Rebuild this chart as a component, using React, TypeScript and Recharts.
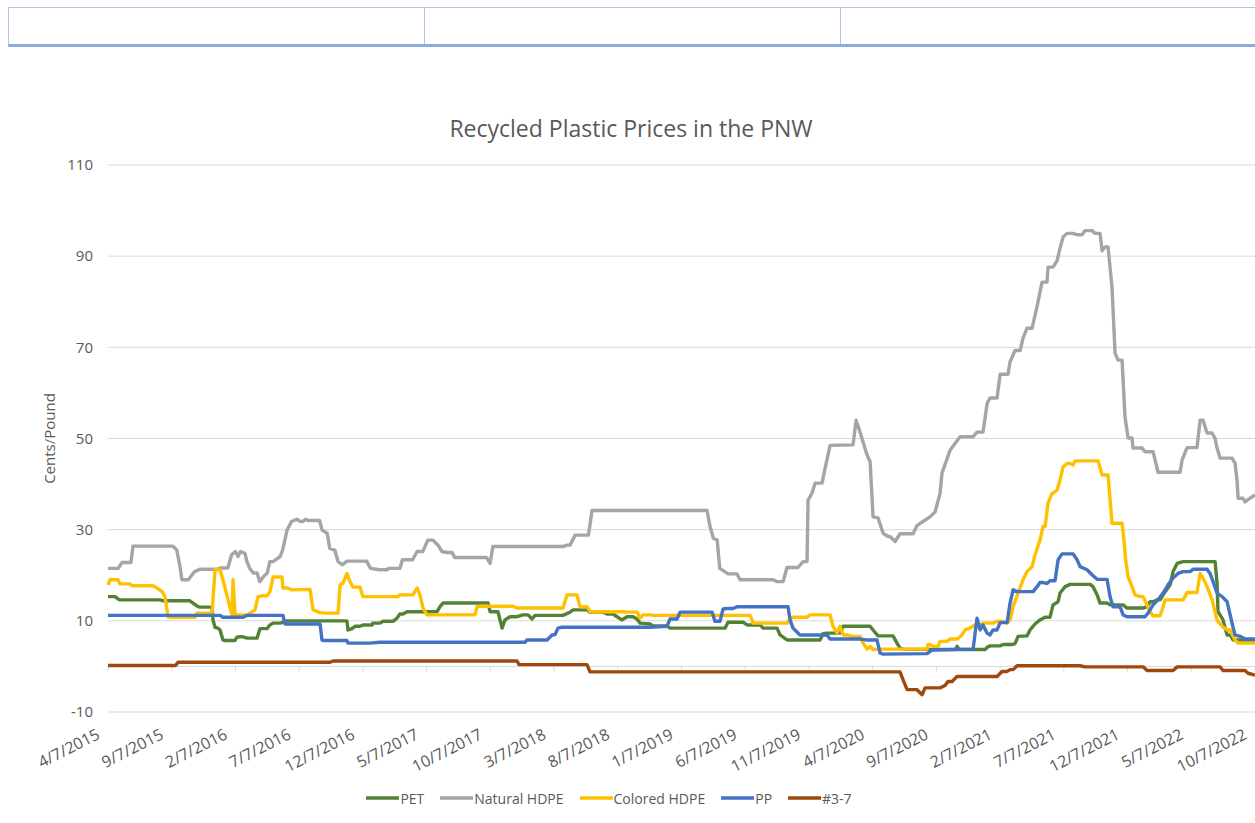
import { LineChart, Line, XAxis, YAxis, CartesianGrid, ReferenceLine } from 'recharts'

// x = months since 4/7/2015, y = cents per pound
const petPoints: [number, number][] = [
  [0, 15.3], [0.55, 15.3], [0.78, 14.8], [0.94, 14.6], [4.08, 14.6], [4.32, 14.4], [6.43, 14.4], [6.67, 13.9],
  [7.06, 13.1], [7.22, 13.0], [8.16, 13.0], [8.24, 10.2], [8.4, 8.5], [8.55, 8.5], [8.79, 8.0], [9.02, 5.8],
  [9.18, 5.7], [9.97, 5.7], [10.12, 6.4], [10.36, 6.5], [10.59, 6.5], [10.91, 6.2], [11.69, 6.2], [11.93, 8.3],
  [12.48, 8.3], [12.71, 9.1], [12.95, 9.5], [13.5, 9.5], [14.05, 10.0], [18.75, 10.0], [18.83, 8.0], [19.15, 8.3],
  [19.38, 8.8], [19.77, 8.8], [20.01, 9.1], [20.72, 9.1], [20.79, 9.5], [21.34, 9.5], [21.58, 9.9], [22.36, 9.9],
  [22.68, 10.6], [22.91, 11.5], [23.15, 11.5], [23.46, 12.0], [25.82, 12.0], [26.05, 13.1], [26.29, 13.9],
  [29.82, 13.9], [29.98, 12.0], [30.6, 12.0], [30.92, 8.4], [31.15, 10.2], [31.55, 10.9], [32.09, 10.9],
  [32.57, 11.3], [32.96, 11.3], [33.27, 10.4], [33.51, 11.2], [35.7, 11.2], [36.25, 11.9], [36.49, 12.4],
  [37.59, 12.4], [37.82, 11.9], [38.84, 11.9], [39.16, 11.5], [39.63, 11.5], [39.94, 10.9], [40.33, 10.2],
  [40.73, 10.9], [41.2, 10.9], [41.51, 10.4], [41.75, 9.5], [42.53, 9.3], [42.77, 8.9], [43.86, 8.9], [44.1, 8.4],
  [48.42, 8.4], [48.65, 9.7], [49.83, 9.7], [50.14, 9.1], [51.16, 9.1], [51.4, 8.4], [52.5, 8.4], [52.73, 6.9],
  [53.28, 5.8], [55.87, 5.8], [56.11, 7.2], [56.42, 7.3], [57.44, 7.3], [57.68, 8.8], [59.8, 8.8], [60.03, 8.0],
  [60.42, 6.7], [61.6, 6.7], [61.91, 5.1], [62.15, 4.0], [62.38, 3.8], [64.74, 3.7], [66.5, 3.7], [66.62, 4.4],
  [66.8, 3.7], [68.82, 3.7], [68.98, 4.2], [69.21, 4.5], [70.0, 4.5], [70.23, 4.8], [70.94, 4.8], [71.17, 5.0],
  [71.41, 6.6], [72.11, 6.7], [72.35, 8.0], [72.74, 9.3], [73.13, 10.2], [73.53, 10.8], [73.92, 10.8],
  [74.15, 13.5], [74.55, 14.2], [74.7, 16.1], [75.1, 17.5], [75.49, 18.0], [77.06, 18.0], [77.29, 17.5],
  [77.61, 15.7], [77.84, 13.9], [78.39, 13.9], [78.63, 13.5], [79.65, 13.5], [79.96, 12.8], [81.22, 12.8],
  [81.53, 13.1], [81.77, 14.2], [82.0, 14.2], [82.32, 14.6], [82.55, 14.6], [82.79, 15.7], [83.34, 17.9],
  [83.57, 20.8], [83.89, 22.6], [84.36, 23.0], [86.87, 23.0], [87.02, 18.3], [87.1, 12.0], [87.49, 10.2],
  [87.81, 6.9], [88.04, 6.9], [88.28, 5.8], [90, 5.8],
]

const naturalHdpePoints: [number, number][] = [
  [0, 21.5], [0.8, 21.5], [1.1, 22.8], [1.8, 22.8], [1.96, 26.4], [5.1, 26.4], [5.4, 25.5], [5.65, 21.9],
  [5.8, 19.0], [6.3, 19.0], [6.6, 20.1], [6.8, 20.8], [7.2, 21.3], [8.6, 21.3], [8.8, 21.6], [9.4, 21.6],
  [9.7, 24.5], [10.0, 25.2], [10.2, 24.1], [10.4, 25.2], [10.75, 24.8], [10.9, 23.0], [11.1, 21.6], [11.4, 20.5],
  [11.7, 20.5], [11.9, 18.6], [12.2, 19.7], [12.5, 20.5], [12.7, 23.0], [12.95, 23.0], [13.5, 24.1], [13.7, 25.5],
  [14.05, 29.9], [14.4, 31.8], [14.8, 32.3], [15.1, 31.8], [15.3, 31.8], [15.5, 32.3], [15.7, 32.0], [16.6, 32.0],
  [16.8, 29.9], [17.2, 29.2], [17.4, 25.9], [17.8, 25.5], [18.05, 23.0], [18.4, 22.3], [18.75, 23.1], [20.3, 23.1],
  [20.6, 21.5], [21.3, 21.2], [21.9, 21.2], [22.0, 21.5], [22.9, 21.5], [23.1, 23.4], [23.9, 23.4], [24.25, 25.2],
  [24.7, 25.2], [25.1, 27.7], [25.5, 27.7], [25.9, 26.6], [26.2, 25.2], [26.6, 25.0], [27.0, 25.0], [27.2, 23.9],
  [29.7, 23.9], [29.98, 22.6], [30.2, 26.3], [35.7, 26.3], [36.0, 26.6], [36.25, 26.6], [36.65, 28.8],
  [37.7, 28.8], [37.98, 34.2], [47.0, 34.2], [47.24, 30.7], [47.5, 28.1], [47.8, 27.7], [48.0, 21.5],
  [48.4, 20.8], [48.65, 20.3], [49.36, 20.3], [49.59, 19.0], [52.18, 19.0], [52.5, 18.6], [52.97, 18.6],
  [53.28, 21.7], [54.14, 21.7], [54.54, 23.0], [54.85, 23.0], [54.93, 36.5], [55.24, 38.0], [55.48, 40.2],
  [56.03, 40.2], [56.26, 43.4], [56.66, 48.5], [58.46, 48.6], [58.7, 54.0], [59.0, 51.5], [59.56, 46.4],
  [59.8, 44.9], [60.03, 32.8], [60.42, 32.6], [60.82, 29.2], [61.21, 28.5], [61.36, 28.5], [61.76, 27.4],
  [62.15, 29.1], [63.17, 29.1], [63.48, 30.9], [63.95, 31.8], [64.5, 32.8], [64.9, 33.9], [65.29, 38.0],
  [65.44, 42.4], [66.07, 47.4], [66.86, 50.4], [67.88, 50.4], [68.19, 51.4], [68.66, 51.4], [68.98, 57.7],
  [69.21, 58.9], [69.76, 58.9], [70.0, 64.1], [70.62, 64.1], [70.78, 66.8], [71.17, 69.3], [71.57, 69.3],
  [71.8, 72.0], [72.11, 74.2], [72.51, 74.2], [72.9, 79.0], [73.29, 84.3], [73.68, 84.3], [73.76, 87.6],
  [74.15, 87.6], [74.47, 89.0], [74.7, 91.7], [74.94, 94.2], [75.25, 95.0], [75.72, 95.0], [76.04, 94.7],
  [76.43, 94.7], [76.67, 95.6], [77.21, 95.6], [77.45, 95.0], [77.84, 95.0], [78.0, 91.2], [78.23, 92.0],
  [78.47, 92.0], [78.78, 83.2], [79.02, 68.7], [79.26, 67.2], [79.57, 67.2], [79.8, 54.7], [80.04, 50.1],
  [80.35, 50.1], [80.43, 47.9], [81.14, 47.9], [81.37, 47.1], [82.0, 47.1], [82.39, 42.6], [84.12, 42.6],
  [84.28, 45.3], [84.67, 48.0], [85.45, 48.0], [85.69, 54.0], [85.92, 54.0], [86.24, 51.2], [86.63, 51.2],
  [86.87, 50.0], [87.02, 47.9], [87.26, 45.7], [88.2, 45.7], [88.43, 44.6], [88.59, 40.9], [88.67, 36.9],
  [89.06, 36.9], [89.22, 36.1], [89.61, 36.9], [90, 37.6],
]

const coloredHdpePoints: [number, number][] = [
  [0, 17.9], [0.16, 19.0], [0.78, 19.0], [0.94, 18.1], [1.73, 18.1], [1.88, 17.7], [3.53, 17.7], [3.85, 17.2],
  [4.24, 16.4], [4.47, 15.3], [4.71, 10.9], [4.87, 10.8], [6.83, 10.8], [6.98, 11.7], [8.16, 11.7], [8.4, 21.2],
  [8.79, 21.2], [9.02, 19.0], [9.42, 14.6], [9.73, 11.3], [9.81, 19.0], [9.97, 11.3], [10.91, 11.3], [11.14, 11.7],
  [11.54, 12.4], [11.77, 15.3], [12.16, 15.5], [12.48, 15.5], [12.71, 16.4], [12.95, 19.6], [13.65, 19.6],
  [13.73, 17.2], [14.12, 17.2], [14.44, 16.8], [15.85, 16.9], [16.09, 12.4], [16.64, 11.8], [17.19, 11.7],
  [18.05, 11.7], [18.21, 17.9], [18.44, 18.3], [18.75, 20.4], [18.99, 18.6], [19.23, 17.4], [19.77, 17.4],
  [20.01, 15.3], [22.76, 15.3], [22.91, 15.7], [23.93, 15.7], [24.25, 17.2], [24.48, 15.7], [24.72, 12.8],
  [25.03, 11.3], [28.8, 11.3], [28.96, 13.1], [29.19, 13.2], [31.78, 13.2], [32.09, 12.8], [35.7, 12.8],
  [36.02, 15.7], [36.8, 15.7], [37.04, 13.1], [37.59, 13.1], [37.82, 12.0], [40.41, 12.0], [40.73, 11.9],
  [41.51, 11.9], [41.75, 10.6], [41.98, 11.3], [42.53, 11.3], [42.77, 11.2], [50.38, 11.2], [50.54, 10.2],
  [50.61, 9.5], [53.28, 9.5], [53.52, 10.4], [53.75, 10.8], [54.85, 10.8], [55.09, 11.3], [56.66, 11.3],
  [56.89, 8.8], [57.21, 7.3], [57.44, 8.8], [57.68, 6.9], [57.99, 6.9], [58.46, 6.6], [59.01, 6.6], [59.25, 5.1],
  [59.56, 3.8], [59.8, 4.4], [60.03, 3.7], [60.58, 3.8], [64.27, 3.8], [64.35, 4.8], [64.5, 4.8], [64.74, 4.4],
  [65.13, 4.4], [65.29, 5.5], [65.84, 5.5], [66.07, 6.0], [66.62, 6.0], [67.01, 6.9], [67.25, 8.0], [67.64, 8.4],
  [68.03, 9.1], [68.43, 9.1], [68.66, 9.5], [69.45, 9.5], [69.76, 9.9], [70.23, 9.9], [70.55, 9.5], [70.78, 10.2],
  [71.02, 13.1], [71.41, 16.1], [71.8, 19.0], [72.11, 20.8], [72.51, 21.9], [72.74, 24.5], [73.13, 27.7],
  [73.37, 30.7], [73.53, 30.7], [73.76, 35.8], [74.08, 38.0], [74.15, 38.0], [74.47, 38.7], [74.7, 40.9],
  [74.94, 43.8], [75.25, 44.5], [75.49, 44.5], [75.72, 44.2], [75.88, 45.1], [77.69, 45.1], [78.0, 42.0],
  [78.47, 42.0], [78.78, 31.4], [79.57, 31.4], [79.7, 28.1], [79.85, 23.4], [80.04, 19.7], [80.35, 17.5],
  [80.59, 15.7], [80.98, 15.3], [81.22, 15.3], [81.53, 13.5], [81.77, 12.0], [82.0, 11.1], [82.55, 11.1],
  [82.79, 13.1], [82.94, 14.6], [84.36, 14.6], [84.67, 16.2], [85.45, 16.2], [85.69, 20.4], [85.92, 19.4],
  [86.24, 17.5], [86.63, 14.6], [87.02, 10.2], [87.42, 8.8], [87.81, 8.0], [88.04, 8.0], [88.43, 5.8],
  [88.67, 5.1], [90, 5.1],
]

const ppPoints: [number, number][] = [
  [0, 11.2], [8.79, 11.2], [9.02, 10.8], [10.59, 10.8], [10.91, 11.2], [13.73, 11.2], [13.89, 9.3], [16.64, 9.3],
  [16.79, 5.8], [16.87, 5.7], [18.75, 5.7], [18.83, 5.1], [20.5, 5.1], [21.34, 5.3], [32.72, 5.3], [32.88, 5.8],
  [34.45, 5.8], [34.84, 6.9], [35.08, 7.0], [35.31, 8.4], [35.63, 8.6], [42.53, 8.6], [43.86, 8.8], [44.1, 10.4],
  [44.65, 10.4], [44.89, 11.9], [47.4, 11.9], [47.63, 9.9], [48.02, 9.9], [48.26, 12.6], [48.57, 12.7],
  [49.04, 12.7], [49.36, 13.1], [53.36, 13.1], [53.52, 10.2], [53.75, 8.4], [54.3, 6.9], [56.42, 6.9],
  [56.66, 6.0], [59.01, 6.0], [59.56, 5.8], [60.34, 5.8], [60.58, 2.9], [60.82, 2.7], [64.27, 2.8], [64.66, 3.6],
  [67.88, 3.8], [68.19, 10.6], [68.43, 8.0], [68.66, 9.1], [68.98, 7.3], [69.21, 6.9], [69.45, 8.0], [69.76, 8.0],
  [70.0, 9.6], [70.55, 9.6], [70.78, 13.9], [71.02, 16.8], [71.33, 16.4], [72.59, 16.4], [72.9, 17.5],
  [73.13, 18.4], [73.37, 18.4], [73.68, 18.2], [73.92, 18.8], [74.31, 18.8], [74.55, 23.4], [74.86, 24.7],
  [75.72, 24.7], [76.04, 23.4], [76.27, 21.9], [76.82, 21.2], [77.21, 20.1], [77.61, 19.1], [78.39, 19.1],
  [78.63, 15.3], [78.86, 13.1], [79.41, 13.1], [79.65, 11.3], [79.96, 10.9], [81.37, 10.9], [81.61, 11.7],
  [82.0, 13.5], [82.39, 14.6], [82.79, 16.1], [83.18, 17.9], [83.57, 19.4], [83.96, 20.4], [84.36, 20.8],
  [84.9, 20.8], [85.14, 21.3], [86.24, 21.3], [86.47, 20.4], [86.71, 18.6], [87.02, 16.1], [87.42, 15.3],
  [87.81, 14.2], [88.2, 9.5], [88.43, 6.9], [88.83, 6.6], [89.22, 6.0], [90, 6.0],
]

const otherPoints: [number, number][] = [
  [0, 0.2], [5.3, 0.2], [5.49, 0.9], [17.42, 0.9], [17.66, 1.2], [32.09, 1.2], [32.25, 0.4], [37.59, 0.4],
  [37.82, -1.2], [62.15, -1.2], [62.38, -2.9], [62.7, -5.1], [63.48, -5.1], [63.88, -6.2], [64.11, -4.7],
  [65.29, -4.7], [65.68, -4.2], [65.91, -3.3], [66.23, -3.3], [66.62, -2.2], [69.76, -2.2], [70.15, -1.1],
  [70.55, -1.1], [70.78, -0.7], [71.02, -0.7], [71.33, 0.15], [76.27, 0.15], [76.67, -0.1], [81.22, -0.1],
  [81.53, -0.9], [83.57, -0.9], [83.89, -0.1], [87.26, -0.1], [87.49, -0.9], [89.22, -0.9], [89.46, -1.5],
  [89.85, -1.8], [90, -1.9],
]

const tickLabels = [
  '4/7/2015', '9/7/2015', '2/7/2016', '7/7/2016', '12/7/2016', '5/7/2017', '10/7/2017', '3/7/2018',
  '8/7/2018', '1/7/2019', '6/7/2019', '11/7/2019', '4/7/2020', '9/7/2020', '2/7/2021', '7/7/2021',
  '12/7/2021', '5/7/2022', '10/7/2022',
]
const tickMonths = tickLabels.map((_, i) => i * 5)
const yTicks = [-10, 10, 30, 50, 70, 90, 110]

const series = [
  { name: 'PET', color: '#548235', points: petPoints },
  { name: 'Natural HDPE', color: '#a5a5a5', points: naturalHdpePoints },
  { name: 'Colored HDPE', color: '#ffc000', points: coloredHdpePoints },
  { name: 'PP', color: '#4472c4', points: ppPoints },
  { name: '#3-7', color: '#9e480e', points: otherPoints },
]

const FONT = '"Open Sans", sans-serif'
const TEXT = '#595959'

function DateTick({ x, y, payload }: any) {
  const label = tickLabels[Math.round(payload.value / 5)]
  return (
    <g transform={`translate(${x - 7},${y + 18}) rotate(-27)`}>
      <text x={0} y={0} textAnchor="end" fill={TEXT} fontSize={16} fontFamily={FONT}>
        {label}
      </text>
    </g>
  )
}

export default function App() {
  return (
    <div style={{ position: 'absolute', left: 0, top: 0, width: 1255, height: 823, overflow: 'hidden', background: '#fff', fontFamily: FONT }}>
      {/* spreadsheet row above the chart */}
      <div style={{ position: 'absolute', left: 8, top: 7, width: 1300, height: 36, borderTop: '1px solid #b4c6e7', borderLeft: '1px solid #b4c6e7', borderBottom: '3px solid #8eaadb', display: 'flex' }}>
        <div style={{ width: 415, borderRight: '1px solid #b4c6e7' }} />
        <div style={{ width: 415, borderRight: '1px solid #b4c6e7' }} />
      </div>

      <div style={{ position: 'absolute', left: 0, top: 112, width: 1262, textAlign: 'center', fontSize: 23, color: TEXT }}>
        Recycled Plastic Prices in the PNW
      </div>

      <div style={{ position: 'absolute', left: 0, top: 0 }}>
        <LineChart width={1270} height={823} margin={{ top: 165, right: 15, bottom: 31, left: 0 }}>
          <CartesianGrid vertical={false} stroke="#d9d9d9" strokeWidth={1} />
          <XAxis dataKey="m" type="number" domain={[0, 90]} ticks={tickMonths} interval={0}
            axisLine={false} tickLine={false} height={80} tick={<DateTick />} allowDuplicatedCategory={false} />
          <YAxis type="number" domain={[-10, 110]} ticks={yTicks} interval={0} width={108}
            axisLine={false} tickLine={false} tickMargin={9}
            tick={{ fill: TEXT, fontSize: 15, fontFamily: FONT }}
            label={{ value: 'Cents/Pound', angle: -90, position: 'center', dx: -4, fill: TEXT, fontSize: 15, fontFamily: FONT }} />
          <ReferenceLine y={0} stroke="#d9d9d9" strokeWidth={1} />
          {tickMonths.map((t) => (
            <ReferenceLine key={t} segment={[{ x: t, y: 0 }, { x: t, y: -1.1 }]} stroke="#d9d9d9" strokeWidth={1} />
          ))}
          {series.map((s) => (
            <Line key={s.name} name={s.name} data={s.points.map(([m, v]) => ({ m, v }))} dataKey="v"
              type="linear" stroke={s.color} strokeWidth={3.4} dot={false} activeDot={false}
              strokeLinejoin="round" isAnimationActive={false} />
          ))}
        </LineChart>
      </div>

      <div style={{ position: 'absolute', left: 0, top: 788, width: 1218, display: 'flex', justifyContent: 'center', fontSize: 14, color: TEXT }}>
        {series.map((s, i) => (
          <div key={s.name} style={{ display: 'flex', alignItems: 'center', marginLeft: i === 0 ? 0 : 16, height: 20 }}>
            <svg width={33} height={20} style={{ marginRight: 1 }}>
              <line x1={0} y1={10} x2={33} y2={10} stroke={s.color} strokeWidth={3.4} />
            </svg>
            <span>{s.name}</span>
          </div>
        ))}
      </div>
    </div>
  )
}
